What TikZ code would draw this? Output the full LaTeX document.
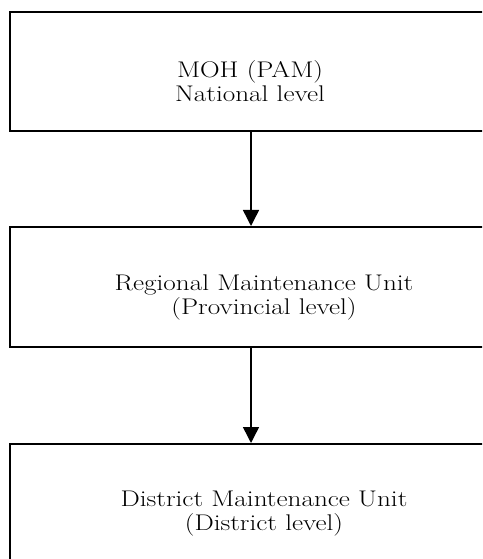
\documentclass[tikz,border=0pt]{standalone}
\usepackage{graphicx}
\usetikzlibrary{arrows.meta}
\newcommand{\widetxt}[1]{\scalebox{1.2}[1]{#1}}
\begin{document}
\begin{tikzpicture}[x=0.75pt,y=-0.75pt,
  box/.style={draw, line width=1.5pt, rectangle, minimum width=361.5pt, inner sep=0pt},
  lbl/.style={anchor=base, font=\fontsize{17}{18}\selectfont, inner sep=0pt},
  arr/.style={-{Triangle[width=12pt,length=12pt]}, line width=1.1pt}]
\useasboundingbox (0,0) rectangle (482,559);
\clip (0,0) rectangle (482,559);
\node[box, minimum height=89.25pt] (b1) at (251,71.5) {};
\node[box, minimum height=90pt] (b2) at (251,287) {};
\node[box, minimum height=89.25pt] (b3) at (251,503.5) {};
\node[lbl] (t1a) at (250,78) {\widetxt{MOH (PAM)}};
\node[lbl] (t1b) at (250,102) {\widetxt{National level}};
\node[lbl] (t2a) at (264,290) {\widetxt{Regional Maintenance Unit}};
\node[lbl] (t2b) at (264,314) {\widetxt{(Provincial level)}};
\node[lbl] (t3a) at (264,506) {\widetxt{District Maintenance Unit}};
\node[lbl] (t3b) at (264,530) {\widetxt{(District level)}};
\draw[arr] (b1.south) -- (b2.north);
\draw[arr] (b2.south) -- (b3.north);
\end{tikzpicture}
\end{document}
